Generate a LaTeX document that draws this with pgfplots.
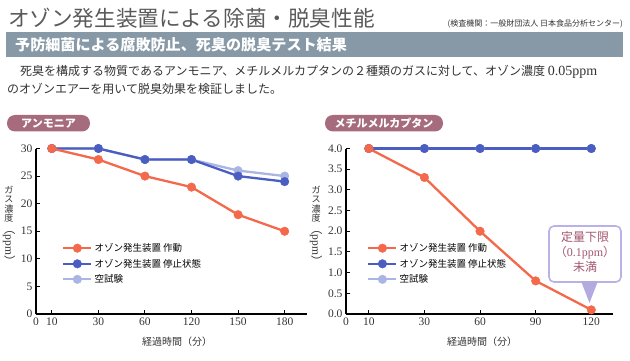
\documentclass[border=0pt]{standalone}
\usepackage{fontspec}
\setmainfont{Liberation Serif}
\newfontfamily\cjk{Noto Sans CJK JP}
\usepackage{pgfplots}
\pgfplotsset{compat=1.18}
\definecolor{orc}{HTML}{F4694B}
\definecolor{bluec}{HTML}{4A5EC2}
\definecolor{lightc}{HTML}{AAB5E4}
\definecolor{bannerc}{HTML}{8799A6}
\definecolor{pillc}{HTML}{A66B7C}
\definecolor{titlec}{HTML}{5A5A5A}
\definecolor{textc}{HTML}{333333}
\definecolor{callb}{HTML}{B9B2E8}
\definecolor{callt}{HTML}{B3ABE0}
\definecolor{callx}{HTML}{A3566E}
\pgfplotsset{
  mystyle/.style={
    scale only axis, anchor=south west,
    axis x line=bottom, axis y line=left,
    axis line style={-, line width=1.3pt, black},
    tick align=inside, major tick length=4pt,
    tick style={line width=1pt, black},
    ticklabel style={font=\fontsize{11.5}{13}\selectfont, text=textc},
    /pgf/number format/assume math mode=true,
    clip=false,
    legend cell align=left,
    reverse legend,
    legend style={draw=none, fill=none, inner sep=0pt, anchor=north west,
      font=\cjk\fontsize{9.5}{11}\selectfont, row sep=2pt},
    legend image code/.code={\draw[mark repeat=2,mark phase=2,##1] plot coordinates {(0pt,0pt) (14pt,0pt) (28pt,0pt)};},
    every axis plot/.append style={line width=2.3pt, mark=*, mark size=4.3pt, mark options={solid, line width=0.4pt}},
  }
}
\begin{document}
\begin{tikzpicture}
\begin{scope}[x=1pt,y=1pt]
\useasboundingbox (0,0) rectangle (630,-361);
\node[anchor=west, inner sep=0, text=titlec, font=\cjk\fontsize{21.6}{24}\selectfont] at (8,-18) {オゾン発生装置による除菌・脱臭性能};
\node[anchor=east, inner sep=0, text=textc, font=\cjk\fontsize{8}{9}\selectfont] at (623,-24) {(検査機関：一般財団法人 日本食品分析センター)};
\fill[bannerc] (6,-32.3) rectangle (623,-57.3);
\node[anchor=west, inner sep=0, text=white, font=\cjk\bfseries\fontsize{15.1}{17}\selectfont] at (15,-45) {予防細菌による腐敗防止、死臭の脱臭テスト結果};
\node[anchor=west, inner sep=0, text=textc, font=\cjk\fontsize{12}{14}\selectfont] at (20,-72) {死臭を構成する物質であるアンモニア、メチルメルカプタンの２種類のガスに対して、オゾン濃度 {\rmfamily\fontsize{14}{14}\selectfont 0.05ppm}};
\node[anchor=west, inner sep=0, text=textc, font=\cjk\fontsize{12}{14}\selectfont] at (7,-89) {のオゾンエアーを用いて脱臭効果を検証しました。};
% pills
\fill[pillc, rounded corners=8pt] (7,-115) rectangle (90,-131.5);
\node[text=white, font=\cjk\bfseries\fontsize{11}{12}\selectfont, inner sep=0] at (48.5,-123.2) {アンモニア};
\fill[pillc, rounded corners=8pt] (325,-115) rectangle (443,-131.5);
\node[text=white, font=\cjk\bfseries\fontsize{11}{12}\selectfont, inner sep=0] at (384,-123.2) {メチルメルカプタン};
% axis labels
\node[font=\cjk\fontsize{10}{11}\selectfont, text=textc, inner sep=0] at (177,-342) {経過時間（分）};
\node[font=\cjk\fontsize{10}{11}\selectfont, text=textc, inner sep=0] at (482,-342) {経過時間（分）};
\node[font=\cjk\fontsize{9}{9.4}\selectfont, text=textc, inner sep=0, align=center] at (9,-204) {ガ\\ス\\濃\\度};
\node[font=\fontsize{11.5}{12}\selectfont, text=textc, inner sep=0, rotate=-90] at (9,-245) {{\cjk （}ppm{\cjk ）}};
\node[font=\cjk\fontsize{9}{9.4}\selectfont, text=textc, inner sep=0, align=center] at (316,-204) {ガ\\ス\\濃\\度};
\node[font=\fontsize{11.5}{12}\selectfont, text=textc, inner sep=0, rotate=-90] at (316,-245) {{\cjk （}ppm{\cjk ）}};
% callout
\draw[callb, fill=white, line width=1.6pt, rounded corners=5pt] (549,-226) rectangle (621,-282);
\fill[callt] (581,-281) -- (598,-281) -- (589.5,-303) -- cycle;
\node[text=callx, inner sep=0, align=center, font=\fontsize{12}{15}\selectfont] at (585,-252) {{\cjk 定量下限}\\{\cjk （}0.1ppm{\cjk ）}\\{\cjk 未満}};
\end{scope}

\begin{axis}[mystyle,
  at={(36pt,-314pt)}, width=271pt, height=165.5pt,
  xmin=0, xmax=5.82, ymin=0, ymax=30,
  xtick={0,0.34,1.34,2.34,3.34,4.34,5.34},
  xticklabels={0,10,30,60,120,150,180},
  ytick={0,5,10,15,20,25,30},
  legend style={at={(0.096,0.44)}},
]
\addplot[color=lightc] coordinates {(0.34,30) (1.34,30) (2.34,28) (3.34,28) (4.34,26) (5.34,25)};
\addlegendentry{空試験}
\addplot[color=bluec] coordinates {(0.34,30) (1.34,30) (2.34,28) (3.34,28) (4.34,25) (5.34,24)};
\addlegendentry{オゾン発生装置 停止状態}
\addplot[color=orc] coordinates {(0.34,30) (1.34,28) (2.34,25) (3.34,23) (4.34,18) (5.34,15)};
\addlegendentry{オゾン発生装置 作動}
\end{axis}

\begin{axis}[mystyle,
  at={(346pt,-314pt)}, width=267pt, height=165.5pt,
  xmin=0, xmax=4.8, ymin=0, ymax=4,
  xtick={0,0.41,1.41,2.41,3.41,4.41},
  xticklabels={0,10,30,60,90,120},
  ytick={0,0.5,1,1.5,2,2.5,3,3.5,4},
  yticklabel style={/pgf/number format/.cd, fixed, fixed zerofill, precision=1},
  legend style={at={(0.079,0.44)}},
]
\addplot[color=lightc] coordinates {(0.41,4.0) (1.41,4.0) (2.41,4.0) (3.41,4.0) (4.41,4.0)};
\addlegendentry{空試験}
\addplot[color=bluec] coordinates {(0.41,4.0) (1.41,4.0) (2.41,4.0) (3.41,4.0) (4.41,4.0)};
\addlegendentry{オゾン発生装置 停止状態}
\addplot[color=orc] coordinates {(0.41,4.0) (1.41,3.3) (2.41,2.0) (3.41,0.8) (4.41,0.1)};
\addlegendentry{オゾン発生装置 作動}
\end{axis}
\end{tikzpicture}
\end{document}
